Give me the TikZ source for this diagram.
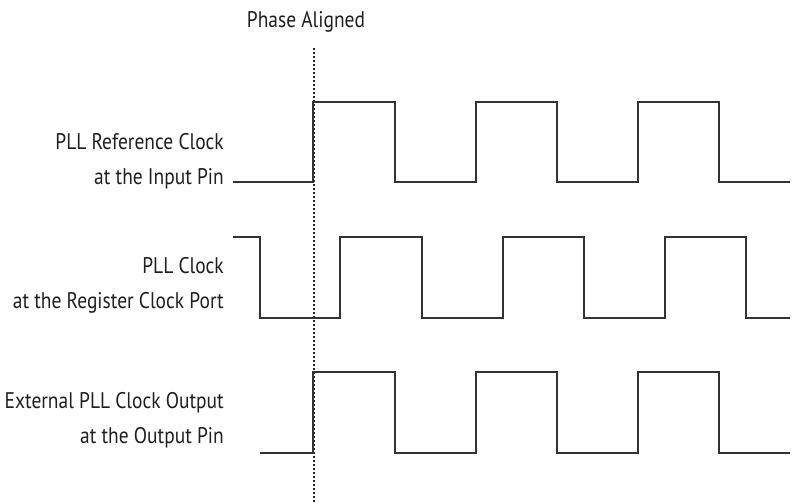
\documentclass[tikz,border=0pt]{standalone}
\usepackage{fontspec}
\setmainfont[FakeStretch=0.86]{PT Sans}
\definecolor{wavecol}{HTML}{333333}
\begin{document}
\begin{tikzpicture}[x=1bp,y=-1bp,
  wave/.style={line width=1.8bp, draw=wavecol, line join=miter},
  lbl/.style={align=right, anchor=east, font=\fontsize{22.7}{35}\selectfont, inner sep=0pt, text=black!88},
  guide/.style={line width=1.3bp, draw=black!85, dash pattern=on 2bp off 2bp}]
\useasboundingbox (0,0) rectangle (792,504);
\node[lbl, anchor=center] (title) at (306,22) {Phase Aligned};
\node[lbl] (l1) at (224,161) {PLL Reference Clock\\at the Input Pin};
\node[lbl] (l2) at (224,285) {PLL Clock\\at the Register Clock Port};
\node[lbl] (l3) at (224,420) {External PLL Clock Output\\at the Output Pin};
\coordinate (gtop) at (314,48);
\coordinate (gbot) at (314,504);
\draw[guide] (gtop) -- (gbot);
\draw[wave] (233,182) -- (313,182) -- (313,102) -- (395,102) -- (395,182) -- (476,182) -- (476,102) -- (557,102) -- (557,182) -- (638,182) -- (638,102) -- (719,102) -- (719,182) -- (790,182);
\draw[wave] (233,237) -- (260,237) -- (260,318) -- (340,318) -- (340,237) -- (422,237) -- (422,318) -- (503,318) -- (503,237) -- (584,237) -- (584,318) -- (665,318) -- (665,237) -- (746,237) -- (746,318) -- (790,318);
\draw[wave] (260,453) -- (313,453) -- (313,372) -- (395,372) -- (395,453) -- (476,453) -- (476,372) -- (557,372) -- (557,453) -- (638,453) -- (638,372) -- (719,372) -- (719,453) -- (790,453);
\end{tikzpicture}
\end{document}
